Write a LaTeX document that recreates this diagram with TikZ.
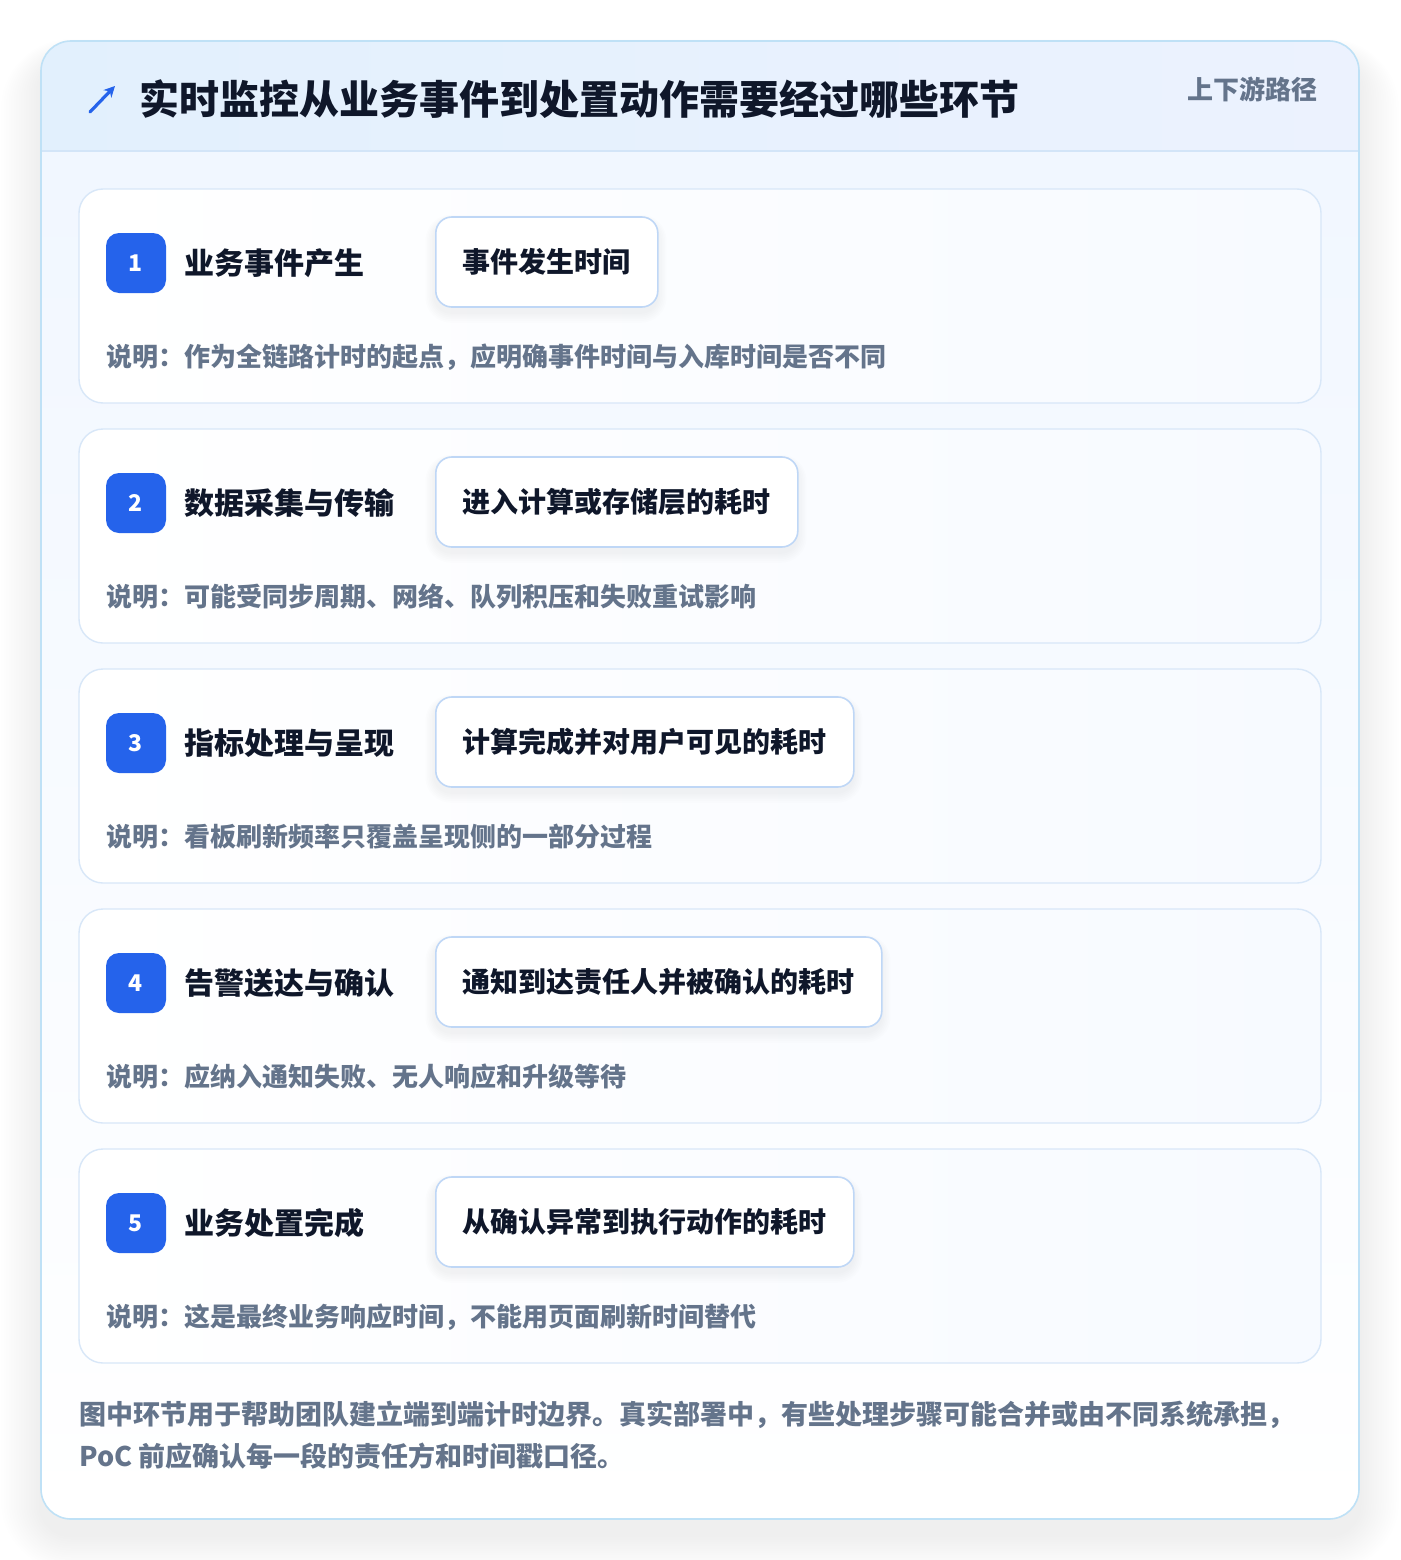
\documentclass[tikz,border=0pt]{standalone}
\usepackage{fontspec}
\setmainfont{Noto Sans CJK SC}
\usetikzlibrary{arrows.meta}
\definecolor{titlec}{HTML}{0F172A}
\definecolor{grayc}{HTML}{64748B}
\definecolor{bluec}{HTML}{2563EB}
\definecolor{cardborder}{HTML}{D8E7F8}
\definecolor{outerborder}{HTML}{BFE1F6}
\definecolor{chipborder}{HTML}{BFD7F6}
\definecolor{hdrL}{HTML}{E2F0FD}
\definecolor{hdrR}{HTML}{ECF2FE}
\definecolor{hdrline}{HTML}{D3E5F8}
\definecolor{outertop}{HTML}{F1F7FF}
\definecolor{cardright}{HTML}{F7FAFF}
\tikzset{
  outercard/.style={draw=outerborder, line width=1.6pt, rounded corners=30pt,
    minimum width=1318pt, minimum height=1478pt, inner sep=0pt},
  card/.style={draw=cardborder, line width=1.4pt, rounded corners=24pt,
    left color=white, right color=cardright,
    minimum width=1242pt, minimum height=214pt, inner sep=0pt},
  badge/.style={fill=bluec, rounded corners=13pt, minimum width=60pt, minimum height=60pt,
    inner sep=0pt, text=white, font=\bfseries\fontsize{23}{26}\selectfont},
  steplabel/.style={anchor=west, inner sep=0pt, text=titlec, font=\bfseries\fontsize{30}{36}\selectfont},
  chip/.style={anchor=west, draw=chipborder, line width=1.6pt, fill=white, rounded corners=16pt,
    minimum height=90pt, inner sep=0pt, text=titlec, font=\bfseries\fontsize{28}{34}\selectfont},
  desc/.style={anchor=west, inner sep=0pt, text=grayc, font=\bfseries\fontsize{26}{30}\selectfont},
  foot/.style={anchor=west, inner sep=0pt, text=grayc, font=\bfseries\fontsize{27}{32}\selectfont},
  shadowlayer/.style={fill=black, fill opacity=#1, draw=none},
}
\begin{document}
\begin{tikzpicture}[x=1pt,y=-1pt]
\useasboundingbox (0,0) rectangle (1400,1560);
\fill[white] (0,0) rectangle (1400,1560);
% outer card soft shadow
\foreach \k in {1,...,16}{
  \pgfmathsetmacro{\g}{2.5*\k}
  \pgfmathsetmacro{\rr}{30+\g}
  \fill[shadowlayer=0.0048, rounded corners=\rr pt] (41-\g,41+18-\g*0.5) rectangle (1359+\g,1519+16+\g*0.9);
}
\node[outercard, draw=none, fill=white] (outerbg) at (700,780) {};
\begin{scope}
  \clip[rounded corners=30pt] (41,41) rectangle (1359,1519);
  \fill[top color=outertop, bottom color=white] (41,151) rectangle (1359,1519);
  \fill[left color=hdrL, right color=hdrR] (41,41) rectangle (1359,151);
  \draw[hdrline, line width=1.4pt] (41,151) -- (1359,151);
\end{scope}
\node[outercard] (outer) at (700,780) {};
% header
\coordinate (arrowtail) at (90,112);
\coordinate (arrowhead) at (115,86);
\draw[bluec, line width=3.2pt, line cap=round, -{Stealth[length=11pt,width=11pt]}] (arrowtail) -- (arrowhead);
\node[anchor=west, inner sep=0pt, text=titlec, font=\bfseries\fontsize{40}{48}\selectfont] (title) at (139,99) {实时监控从业务事件到处置动作需要经过哪些环节};
\node[anchor=east, inner sep=0pt, text=grayc, font=\bfseries\fontsize{26}{30}\selectfont] (tag) at (1318,89) {上下游路径};
% cards
\foreach \i/\lab/\chipt/\cw/\d in {
  1/业务事件产生/事件发生时间/222/说明：作为全链路计时的起点，应明确事件时间与入库时间是否不同,
  2/数据采集与传输/进入计算或存储层的耗时/362/说明：可能受同步周期、网络、队列积压和失败重试影响,
  3/指标处理与呈现/计算完成并对用户可见的耗时/418/说明：看板刷新频率只覆盖呈现侧的一部分过程,
  4/告警送达与确认/通知到达责任人并被确认的耗时/446/说明：应纳入通知失败、无人响应和升级等待,
  5/业务处置完成/从确认异常到执行动作的耗时/418/说明：这是最终业务响应时间，不能用页面刷新时间替代}{
  \pgfmathsetmacro{\cardtop}{189+240*(\i-1)}
  \node[card] (card\i) at (700,\cardtop+107) {};
  \node[badge] (badge\i) at (136,\cardtop+74) {\i};
  \node[steplabel] (label\i) at (184,\cardtop+74) {\lab};
  \foreach \s in {1,...,6}{
    \pgfmathsetmacro{\sr}{16+1.6*\s}
    \fill[shadowlayer=0.008, rounded corners=\sr pt] (435-1.6*\s,\cardtop+28+5-1.2*\s) rectangle (435+\cw+1.6*\s,\cardtop+118+5+1.8*\s);
  }
  \node[chip, minimum width=\cw pt] (chip\i) at (435,\cardtop+73) {\chipt};
  \node[desc] (desc\i) at (106,\cardtop+168) {\d};
}
% footer
\node[foot] (foot1) at (79,1415) {图中环节用于帮助团队建立端到端计时边界。真实部署中，有些处理步骤可能合并或由不同系统承担，};
\node[foot] (foot2) at (79,1456) {PoC 前应确认每一段的责任方和时间戳口径。};
\end{tikzpicture}
\end{document}
